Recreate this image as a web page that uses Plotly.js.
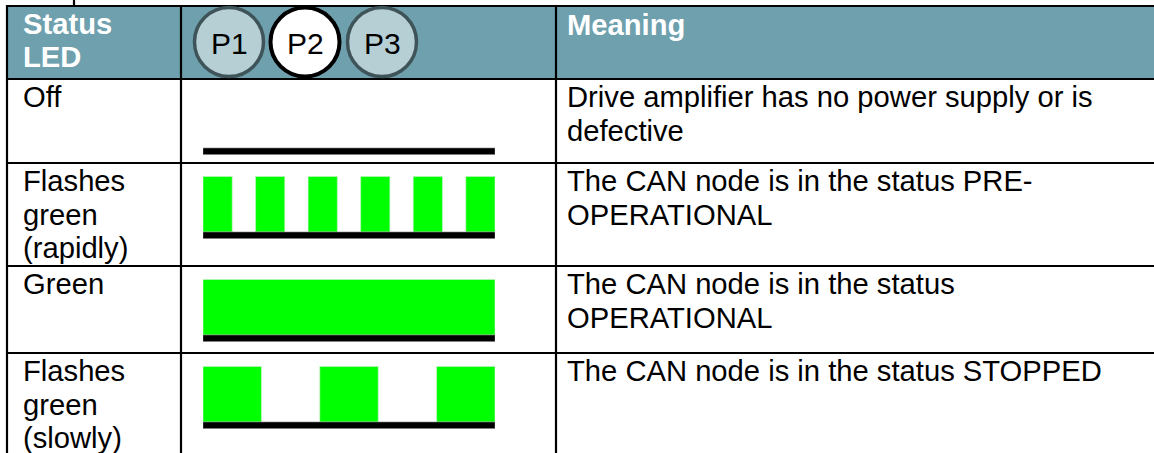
<!DOCTYPE html>
<html>
<head>
<meta charset="utf-8">
<script src="https://cdn.plot.ly/plotly-3.0.1.min.js"></script>
<style>
  html, body { margin: 0; padding: 0; background: #ffffff; }
  #chart { width: 1154px; height: 453px; }
</style>
</head>
<body>
<div id="chart"></div>
<script>
// ---------------- data ----------------
const headerStatus = ["Status", "LED"];
const headerMeaning = ["Meaning"];
const ledLabels = ["P1", "P2", "P3"];
const activeLed = "P2";

const statusLines = [
  ["Off"],
  ["Flashes", "green", "(rapidly)"],
  ["Green"],
  ["Flashes", "green", "(slowly)"]
];
const meaningLines = [
  ["Drive amplifier has no power supply or is", "defective"],
  ["The CAN node is in the status PRE-", "OPERATIONAL"],
  ["The CAN node is in the status", "OPERATIONAL"],
  ["The CAN node is in the status STOPPED"]
];
// LED "on" intervals along a time axis from 0 to 10
const timeSpan = [0, 10];
const pulseStarts = [
  [],
  [0, 1.8, 3.6, 5.4, 7.2, 9.0],
  [0],
  [0, 4, 8]
];
const pulseWidths = [
  [],
  [1, 1, 1, 1, 1, 1],
  [10],
  [2, 2, 2]
];

// ---------------- layout geometry (pixels) ----------------
const W = 1154, H = 453;
const tableLeft = 7, tableTop = 6, headerBottom = 79;
const colSeps = [181, 556];
const rowTops = [79, 163, 266, 353];
const col1TextX = 21.5, col3TextX = 566;
const fontSize = 29.2, lineGap = 33.5, firstBaseline = 28.5;
const pulseHeight = 55.5, baseThickness = 6.5, baseOffset = 69;
const headerColor = "#6EA0AE";
const green = "#00FF00";
const font = "Liberation Sans, Arial, sans-serif";

const baselines = rowTops.map(t => t + baseOffset);

// ---------------- traces ----------------
const traces = [];
pulseStarts.forEach((starts, i) => {
  if (!starts.length) return;
  traces.push({
    type: "bar",
    xaxis: "x2", yaxis: "y",
    x: starts.map((s, k) => s + pulseWidths[i][k] / 2),
    width: pulseWidths[i],
    base: starts.map(() => baselines[i]),
    y: starts.map(() => -pulseHeight),
    marker: { color: green, line: { width: 0.6, color: "#c8f0c8" } },
    hoverinfo: "skip",
    showlegend: false
  });
});
traces.push({
  type: "bar",
  xaxis: "x2", yaxis: "y",
  x: baselines.map(() => (timeSpan[0] + timeSpan[1]) / 2),
  width: baselines.map(() => timeSpan[1] - timeSpan[0]),
  base: baselines,
  y: baselines.map(() => baseThickness),
  marker: { color: "#000000", line: { width: 0.6, color: "#808080" } },
  hoverinfo: "skip",
  showlegend: false
});

// ---------------- shapes ----------------
const shapes = [];
shapes.push({ type: "rect", xref: "x", yref: "y", x0: tableLeft, x1: W + 5, y0: tableTop, y1: headerBottom,
  fillcolor: headerColor, line: { width: 0 }, layer: "below" });
const lineStyle = { color: "#000000", width: 2.2 };
[tableTop].concat(rowTops).forEach(y => {
  shapes.push({ type: "line", xref: "x", yref: "y", x0: tableLeft - 1, x1: W + 5, y0: y, y1: y, line: lineStyle });
});
[tableLeft].concat(colSeps).forEach(x => {
  shapes.push({ type: "line", xref: "x", yref: "y", x0: x, x1: x, y0: tableTop - 1, y1: H + 5, line: lineStyle });
});
// fragment of the table above
shapes.push({ type: "line", xref: "x", yref: "y", x0: 74, x1: 74, y0: -2, y1: tableTop, line: lineStyle });

// LED circles
const circleCenters = [229, 305, 382];
const circleR = 34.5, circleCy = 42;
ledLabels.forEach((lab, i) => {
  const active = lab === activeLed;
  shapes.push({ type: "circle", xref: "x", yref: "y",
    x0: circleCenters[i] - circleR, x1: circleCenters[i] + circleR,
    y0: circleCy - circleR, y1: circleCy + circleR,
    fillcolor: active ? "#FFFFFF" : "#B6CFD5",
    line: { color: active ? "#000000" : "#3F5458", width: active ? 4 : 3.5 } });
});

// ---------------- annotations ----------------
const ann = [];
function addText(txt, x, baseline, opts) {
  opts = opts || {};
  const fs = opts.size || fontSize;
  ann.push({ xref: "x", yref: "y", x: x, y: baseline - 0.3465 * fs,
    text: txt, showarrow: false, xanchor: opts.xanchor || "left", yanchor: "middle",
    borderpad: 0,
    font: { family: font, size: fs, color: opts.color || "#000000", weight: opts.weight || "normal" } });
}
headerStatus.forEach((t, k) => addText("<b>" + t + "</b>", 22, 34 + k * lineGap, { color: "#FFFFFF" }));
headerMeaning.forEach((t, k) => addText("<b>" + t + "</b>", col3TextX, 35 + k * lineGap, { color: "#FFFFFF" }));
ledLabels.forEach((lab, i) => addText(lab, circleCenters[i], 53.5, { xanchor: "center", size: 30 }));

statusLines.forEach((lines, i) => {
  lines.forEach((t, k) => addText(t, col1TextX, rowTops[i] + firstBaseline + k * lineGap));
});
meaningLines.forEach((lines, i) => {
  lines.forEach((t, k) => addText(t, col3TextX, rowTops[i] + firstBaseline + k * lineGap));
});

const layout = {
  width: W, height: H,
  margin: { l: 0, r: 0, t: 0, b: 0, pad: 0 },
  paper_bgcolor: "#FFFFFF", plot_bgcolor: "rgba(0,0,0,0)",
  showlegend: false,
  barmode: "overlay",
  xaxis: { range: [0, W], domain: [0, 1], visible: false, fixedrange: true },
  xaxis2: { range: timeSpan, domain: [203 / W, 495 / W], anchor: "y", visible: false, fixedrange: true },
  yaxis: { range: [H, 0], domain: [0, 1], visible: false, fixedrange: true },
  shapes: shapes,
  annotations: ann
};

Plotly.newPlot("chart", traces, layout, { displayModeBar: false, staticPlot: true });
</script>
</body>
</html>
